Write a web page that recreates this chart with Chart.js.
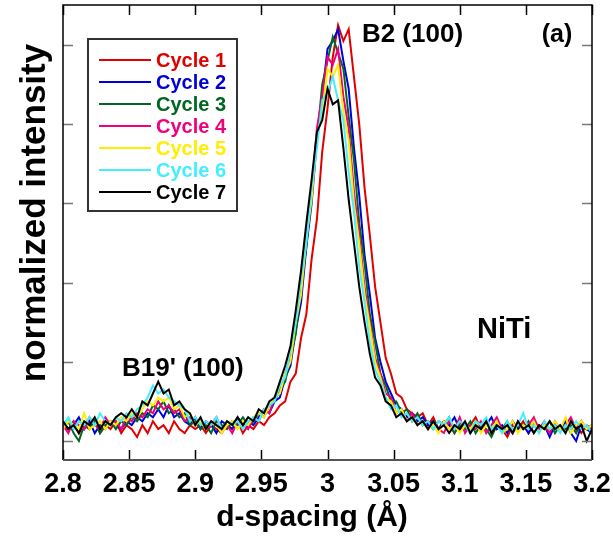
<!DOCTYPE html>
<html>
<head>
<meta charset="utf-8">
<title>NiTi d-spacing</title>
<script src="https://cdn.jsdelivr.net/npm/chart.js@4.4.0/dist/chart.umd.min.js"></script>
<style>
  html, body { margin: 0; padding: 0; background: #fff; }
  #wrap { width: 613px; height: 541px; position: relative; }
</style>
</head>
<body>
<div id="wrap"><canvas id="xrd"></canvas></div>
<script>
// d-spacing grid (Å)
const dSpacing = [
  2.800, 2.804, 2.808, 2.812, 2.816, 2.820, 2.824, 2.828, 2.832, 2.836,
  2.840, 2.844, 2.848, 2.852, 2.856, 2.860, 2.864, 2.868, 2.872, 2.876,
  2.880, 2.884, 2.888, 2.892, 2.896, 2.900, 2.904, 2.908, 2.912, 2.916,
  2.920, 2.924, 2.928, 2.932, 2.936, 2.940, 2.944, 2.948, 2.952, 2.956,
  2.960, 2.964, 2.968, 2.972, 2.976, 2.980, 2.984, 2.988, 2.992, 2.996,
  3.000, 3.004, 3.008, 3.012, 3.016, 3.020, 3.024, 3.028, 3.032, 3.036,
  3.040, 3.044, 3.048, 3.052, 3.056, 3.060, 3.064, 3.068, 3.072, 3.076,
  3.080, 3.084, 3.088, 3.092, 3.096, 3.100, 3.104, 3.108, 3.112, 3.116,
  3.120, 3.124, 3.128, 3.132, 3.136, 3.140, 3.144, 3.148, 3.152, 3.156,
  3.160, 3.164, 3.168, 3.172, 3.176, 3.180, 3.184, 3.188, 3.192, 3.196,
  3.200
];

// normalized intensity per thermal cycle
const cycle1 = [
  0.04, 0.03, 0.05, 0.02, 0.04, 0.03, 0.05, 0.02, 0.04, 0.03,
  0.05, 0.02, 0.04, 0.03, 0.01, 0.04, 0.02, 0.05, 0.03, 0.04,
  0.02, 0.05, 0.03, 0.02, 0.04, 0.03, 0.04, 0.02, 0.04, 0.03,
  0.02, 0.04, 0.03, 0.05, 0.02, 0.04, 0.03, 0.05, 0.04, 0.06,
  0.07, 0.09, 0.10, 0.15, 0.17, 0.26, 0.32, 0.46, 0.56, 0.73,
  0.84, 0.97, 1.05, 1.01, 1.04, 0.92, 0.80, 0.64, 0.52, 0.39,
  0.30, 0.21, 0.17, 0.12, 0.11, 0.08, 0.07, 0.06, 0.07, 0.04,
  0.06, 0.03, 0.05, 0.04, 0.02, 0.05, 0.03, 0.04, 0.06, 0.03,
  0.05, 0.02, 0.04, 0.03, 0.01, 0.04, 0.03, 0.05, 0.02, 0.04,
  0.03, 0.05, 0.02, 0.04, 0.03, 0.05, 0.03, 0.04, 0.02, 0.04,
  0.03
];
const cycle2 = [
  0.05, 0.03, 0.04, 0.06, 0.03, 0.05, 0.02, 0.04, 0.03, 0.05,
  0.04, 0.03, 0.05, 0.04, 0.06, 0.05, 0.07, 0.06, 0.08, 0.06,
  0.09, 0.06, 0.07, 0.05, 0.04, 0.06, 0.03, 0.05, 0.04, 0.02,
  0.05, 0.04, 0.03, 0.06, 0.04, 0.05, 0.04, 0.06, 0.08, 0.07,
  0.10, 0.11, 0.16, 0.19, 0.28, 0.35, 0.49, 0.60, 0.76, 0.87,
  0.99, 1.01, 1.04, 0.96, 0.89, 0.74, 0.62, 0.47, 0.37, 0.26,
  0.20, 0.15, 0.12, 0.09, 0.08, 0.06, 0.07, 0.05, 0.06, 0.04,
  0.05, 0.03, 0.05, 0.04, 0.06, 0.03, 0.04, 0.02, 0.05, 0.03,
  0.04, 0.06, 0.03, 0.04, 0.02, 0.05, 0.03, 0.04, 0.02, 0.05,
  0.03, 0.04, 0.01, 0.04, 0.03, 0.05, 0.02, 0.00, 0.04, 0.03,
  0.02
];
const cycle3 = [
  0.03, 0.05, 0.02, 0.00, 0.04, 0.03, 0.05, 0.02, 0.04, 0.05,
  0.03, 0.05, 0.04, 0.06, 0.05, 0.07, 0.06, 0.09, 0.08, 0.10,
  0.07, 0.08, 0.06, 0.07, 0.04, 0.05, 0.03, 0.04, 0.02, 0.05,
  0.04, 0.03, 0.05, 0.04, 0.06, 0.04, 0.05, 0.07, 0.06, 0.09,
  0.10, 0.13, 0.15, 0.21, 0.27, 0.39, 0.49, 0.64, 0.76, 0.90,
  0.96, 1.02, 0.98, 0.94, 0.82, 0.71, 0.55, 0.45, 0.32, 0.25,
  0.17, 0.14, 0.10, 0.10, 0.07, 0.08, 0.05, 0.07, 0.04, 0.05,
  0.03, 0.05, 0.04, 0.06, 0.02, 0.04, 0.03, 0.05, 0.02, 0.04,
  0.03, 0.01, 0.04, 0.03, 0.05, 0.02, 0.04, 0.03, 0.05, 0.02,
  0.04, 0.03, 0.05, 0.02, 0.04, 0.03, 0.04, 0.02, 0.05, 0.03,
  0.04
];
const cycle4 = [
  0.04, 0.02, 0.05, 0.04, 0.03, 0.06, 0.04, 0.03, 0.06, 0.04,
  0.05, 0.03, 0.06, 0.05, 0.07, 0.06, 0.08, 0.07, 0.10, 0.08,
  0.09, 0.07, 0.08, 0.05, 0.06, 0.04, 0.05, 0.03, 0.04, 0.06,
  0.03, 0.04, 0.02, 0.05, 0.04, 0.03, 0.06, 0.05, 0.08, 0.07,
  0.11, 0.12, 0.17, 0.21, 0.31, 0.39, 0.52, 0.63, 0.79, 0.87,
  0.97, 0.95, 0.99, 0.87, 0.79, 0.63, 0.52, 0.39, 0.30, 0.21,
  0.17, 0.12, 0.11, 0.07, 0.08, 0.05, 0.07, 0.04, 0.05, 0.03,
  0.05, 0.03, 0.02, 0.05, 0.03, 0.06, 0.02, 0.04, 0.03, 0.05,
  0.02, 0.04, 0.06, 0.03, 0.04, 0.02, 0.05, 0.03, 0.04, 0.06,
  0.03, 0.04, 0.02, 0.05, 0.03, 0.04, 0.06, 0.03, 0.05, 0.03,
  0.04
];
const cycle5 = [
  0.03, 0.05, 0.04, 0.03, 0.07, 0.03, 0.04, 0.05, 0.03, 0.05,
  0.04, 0.06, 0.05, 0.07, 0.06, 0.08, 0.10, 0.09, 0.11, 0.10,
  0.11, 0.08, 0.09, 0.06, 0.07, 0.04, 0.05, 0.03, 0.05, 0.04,
  0.02, 0.04, 0.05, 0.03, 0.05, 0.04, 0.06, 0.07, 0.06, 0.09,
  0.11, 0.12, 0.17, 0.20, 0.30, 0.37, 0.51, 0.61, 0.77, 0.83,
  0.94, 0.92, 0.95, 0.83, 0.76, 0.60, 0.50, 0.37, 0.29, 0.20,
  0.16, 0.11, 0.10, 0.07, 0.08, 0.05, 0.06, 0.04, 0.05, 0.03,
  0.04, 0.02, 0.05, 0.03, 0.04, 0.02, 0.04, 0.03, 0.05, 0.02,
  0.04, 0.03, 0.05, 0.02, 0.03, 0.05, 0.02, 0.04, 0.03, 0.05,
  0.02, 0.04, 0.03, 0.05, 0.03, 0.06, 0.02, 0.04, 0.05, 0.03,
  0.04
];
const cycle6 = [
  0.04, 0.06, 0.03, 0.05, 0.04, 0.06, 0.04, 0.07, 0.05, 0.04,
  0.06, 0.05, 0.07, 0.06, 0.08, 0.09, 0.11, 0.14, 0.12, 0.13,
  0.11, 0.10, 0.09, 0.08, 0.05, 0.06, 0.04, 0.05, 0.04, 0.06,
  0.03, 0.05, 0.04, 0.05, 0.03, 0.05, 0.06, 0.05, 0.08, 0.09,
  0.10, 0.14, 0.16, 0.23, 0.30, 0.41, 0.50, 0.64, 0.74, 0.86,
  0.88, 0.92, 0.86, 0.81, 0.68, 0.58, 0.44, 0.35, 0.25, 0.18,
  0.15, 0.11, 0.08, 0.09, 0.06, 0.07, 0.05, 0.06, 0.04, 0.05,
  0.03, 0.05, 0.04, 0.06, 0.03, 0.05, 0.04, 0.02, 0.05, 0.04,
  0.06, 0.03, 0.04, 0.02, 0.05, 0.03, 0.04, 0.07, 0.03, 0.04,
  0.02, 0.05, 0.03, 0.04, 0.02, 0.04, 0.03, 0.05, 0.03, 0.04,
  0.02
];
const cycle7 = [
  0.05, 0.03, 0.04, 0.02, 0.05, 0.04, 0.06, 0.03, 0.05, 0.04,
  0.06, 0.07, 0.06, 0.08, 0.06, 0.10, 0.09, 0.12, 0.15, 0.12,
  0.13, 0.09, 0.10, 0.08, 0.07, 0.04, 0.06, 0.03, 0.05, 0.04,
  0.03, 0.05, 0.04, 0.06, 0.04, 0.06, 0.05, 0.08, 0.07, 0.10,
  0.11, 0.15, 0.19, 0.24, 0.33, 0.43, 0.55, 0.66, 0.78, 0.81,
  0.89, 0.85, 0.86, 0.74, 0.61, 0.50, 0.39, 0.30, 0.22, 0.16,
  0.14, 0.10, 0.09, 0.06, 0.07, 0.05, 0.06, 0.04, 0.05, 0.03,
  0.05, 0.03, 0.04, 0.02, 0.04, 0.03, 0.05, 0.02, 0.04, 0.03,
  0.05, 0.02, 0.04, 0.03, 0.04, 0.02, 0.05, 0.03, 0.04, 0.02,
  0.04, 0.03, 0.05, 0.03, 0.04, 0.02, 0.05, 0.03, 0.04, 0.00,
  0.03
];

const cycles = [cycle1, cycle2, cycle3, cycle4, cycle5, cycle6, cycle7];
const cycleLabels = ['Cycle 1', 'Cycle 2', 'Cycle 3', 'Cycle 4', 'Cycle 5', 'Cycle 6', 'Cycle 7'];
const cycleColors = ['#e00000', '#0000dd', '#006622', '#f0007c', '#ffee00', '#44eeff', '#000000'];

const xTicks = [2.8, 2.85, 2.9, 2.95, 3.0, 3.05, 3.1, 3.15, 3.2];
const yTicks = [0, 0.2, 0.4, 0.6, 0.8, 1.0];

// peak / sample annotations, anchored in data units (left edge, vertical middle)
const notes = [
  { text: 'B2 (100)', d: 3.026, v: 1.025, size: 26 },
  { text: '(a)', d: 3.162, v: 1.025, size: 25 },
  { text: "B19' (100)", d: 2.8446, v: 0.182, size: 26 },
  { text: 'NiTi', d: 3.113, v: 0.28, size: 29 }
];

const FONT = '"Liberation Sans", Arial, Helvetica, sans-serif';

// frame, inward ticks, axis titles, notes and the boxed legend
const decorations = {
  id: 'decorations',
  afterDraw(chart) {
    const { ctx, chartArea: a, scales: { x, y } } = chart;
    ctx.save();

    // inward tick marks
    ctx.lineWidth = 1.5;
    ctx.strokeStyle = '#000';
    ctx.beginPath();
    x.ticks.forEach(t => {
      const px = Math.round(x.getPixelForValue(t.value)) + 0.5;
      ctx.moveTo(px, a.bottom); ctx.lineTo(px, a.bottom - 10);
      ctx.moveTo(px, a.top); ctx.lineTo(px, a.top + 10);
    });
    ctx.stroke();
    ctx.strokeStyle = '#777';
    ctx.beginPath();
    y.ticks.forEach(t => {
      const py = Math.round(y.getPixelForValue(t.value)) + 0.5;
      ctx.moveTo(a.left, py); ctx.lineTo(a.left + 10, py);
      ctx.moveTo(a.right, py); ctx.lineTo(a.right - 10, py);
    });
    ctx.stroke();

    // plot frame
    ctx.strokeStyle = '#000';
    ctx.lineWidth = 1.5;
    ctx.beginPath();
    ctx.moveTo(a.left, a.bottom); ctx.lineTo(a.left, a.top);
    ctx.lineTo(a.right, a.top); ctx.lineTo(a.right, a.bottom);
    ctx.stroke();
    ctx.strokeStyle = '#555';
    ctx.lineWidth = 2;
    ctx.beginPath();
    ctx.moveTo(a.left, a.bottom); ctx.lineTo(a.right, a.bottom);
    ctx.stroke();

    // axis titles
    ctx.fillStyle = '#000';
    ctx.textAlign = 'center';
    ctx.textBaseline = 'alphabetic';
    ctx.font = 'bold 30px ' + FONT;
    ctx.fillText('d-spacing (Å)', 312, 526);
    ctx.save();
    ctx.translate(45, 213);
    ctx.rotate(-Math.PI / 2);
    ctx.font = 'bold 35px ' + FONT;
    ctx.fillText('normalized intensity', 0, 0);
    ctx.restore();

    // annotations
    ctx.textAlign = 'left';
    ctx.textBaseline = 'middle';
    notes.forEach(n => {
      ctx.font = 'bold ' + n.size + 'px ' + FONT;
      ctx.fillText(n.text, x.getPixelForValue(n.d), y.getPixelForValue(n.v));
    });

    // legend box
    const lx = 88, ly = 39, lw = 149, lh = 172, row = 22;
    ctx.fillStyle = '#fff';
    ctx.fillRect(lx, ly, lw, lh);
    ctx.strokeStyle = '#333';
    ctx.lineWidth = 2;
    ctx.strokeRect(lx, ly, lw, lh);
    ctx.font = 'bold 20px ' + FONT;
    chart.data.datasets.forEach((ds, i) => {
      const ry = ly + 21 + i * row;
      ctx.strokeStyle = ds.borderColor;
      ctx.lineWidth = 2;
      ctx.beginPath();
      ctx.moveTo(99, ry); ctx.lineTo(151, ry);
      ctx.stroke();
      ctx.fillStyle = ds.borderColor;
      ctx.fillText(ds.label, 156, ry + 1);
    });

    ctx.restore();
  }
};

const datasets = cycles.map((vals, i) => ({
  label: cycleLabels[i],
  data: vals.map((v, j) => ({ x: dSpacing[j], y: v })),
  borderColor: cycleColors[i],
  borderWidth: 2,
  pointRadius: 0,
  tension: 0,
  fill: false,
  order: cycles.length - 1 - i
}));

new Chart(document.getElementById('xrd'), {
  type: 'line',
  data: { datasets },
  options: {
    responsive: true,
    maintainAspectRatio: false,
    animation: false,
    layout: { padding: { left: 0, top: 5, right: 21, bottom: 0 } },
    plugins: { legend: { display: false }, tooltip: { enabled: false } },
    scales: {
      x: {
        type: 'linear',
        min: 2.8,
        max: 3.2,
        afterBuildTicks: s => { s.ticks = xTicks.map(v => ({ value: v })); },
        afterFit: s => { s.height = 81; s.paddingLeft = 0; s.paddingRight = 0; },
        grid: { display: false, drawTicks: false },
        border: { display: false },
        ticks: {
          color: '#000',
          padding: 8,
          maxRotation: 0,
          autoSkip: false,
          font: { family: FONT, size: 27, weight: 'bold' },
          callback: v => String(+Number(v).toFixed(2))
        }
      },
      y: {
        type: 'linear',
        min: -0.048,
        max: 1.101,
        afterBuildTicks: s => { s.ticks = yTicks.map(v => ({ value: v })); },
        afterFit: s => { s.width = 63; s.paddingTop = 0; s.paddingBottom = 0; },
        grid: { display: false, drawTicks: false },
        border: { display: false },
        ticks: { display: false }
      }
    }
  },
  plugins: [decorations]
});
</script>
</body>
</html>
